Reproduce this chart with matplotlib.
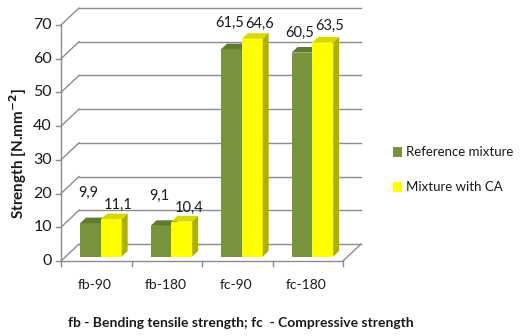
import matplotlib
matplotlib.use("Agg")
import matplotlib.pyplot as plt
from matplotlib.patches import Polygon

categories = ["fb-90", "fb-180", "fc-90", "fc-180"]
reference = [9.9, 9.1, 61.5, 60.5]
with_ca = [11.1, 10.4, 64.6, 63.5]
ref_labels = ["9,9", "9,1", "61,5", "60,5"]
ca_labels = ["11,1", "10,4", "64,6", "63,5"]
series_names = ["Reference mixture", "Mixture with CA"]
yticks = [0, 10, 20, 30, 40, 50, 60, 70]

plt.rcParams['font.family'] = ['Lato', 'DejaVu Sans']

W, H = 522, 336
fig = plt.figure(figsize=(W / 100, H / 100), dpi=100)
x0, y0, x1, y1 = 61, 261, 343, 25
ax = fig.add_axes([x0 / W, (H - y0) / H, (x1 - x0) / W, (y0 - y1) / H])
ax.set_xlim(0, len(categories))
ax.set_ylim(0, 70)
ax.axis("off")

px_x = (x1 - x0) / len(categories)
px_y = (y0 - y1) / 70.0
DX = 18 / px_x
DY = 17 / px_y

grid_c = "#8c8c8c"
lw = 1.0
n = len(categories)
tc = "#1a1a1a"
for t in yticks:
    ax.plot([0, DX], [t, t + DY], color=grid_c, lw=lw, clip_on=False)
    ax.plot([DX, n + DX], [t + DY, t + DY], color=grid_c, lw=lw, clip_on=False)
ax.plot([0, n], [0, 0], color=grid_c, lw=lw, clip_on=False)
ax.plot([n, n + DX], [0, DY], color=grid_c, lw=lw, clip_on=False)
ax.plot([0, 0], [0, 70], color=grid_c, lw=lw, clip_on=False)
tick_len_x = 5 / px_x
tick_len_y = 5 / px_y
for t in yticks:
    ax.plot([-tick_len_x, 0], [t, t], color=grid_c, lw=lw, clip_on=False)
    ax.text(-9 / px_x, t, str(t), ha="right", va="center", fontsize=11.5, color=tc)
for i in range(n + 1):
    ax.plot([i, i], [0, -tick_len_y], color=grid_c, lw=lw, clip_on=False)
for i, c in enumerate(categories):
    ax.text(i + 0.48, -24 / px_y, c, ha="center", va="center", fontsize=10, color=tc)

df = 0.26
bd = 0.33
bw = 0.295
colors = [("#77933C", "#5E7A2C", "#4F6326"), ("#FFFF00", "#D9D900", "#B0B000")]
ox, oy = df * DX, df * DY
ddx, ddy = bd * DX, bd * DY

def bar3d(xl, h, cols):
    front, top, side = cols
    b = oy
    xa = xl + ox
    xb = xa + bw
    ax.add_patch(Polygon([[xa, b], [xb, b], [xb, b + h], [xa, b + h]], closed=True,
                         facecolor=front, edgecolor="none", clip_on=False, zorder=3))
    ax.add_patch(Polygon([[xa, b + h], [xb, b + h], [xb + ddx, b + h + ddy], [xa + ddx, b + h + ddy]],
                         closed=True, facecolor=top, edgecolor="none", clip_on=False, zorder=3))
    ax.add_patch(Polygon([[xb, b], [xb + ddx, b + ddy], [xb + ddx, b + h + ddy], [xb, b + h]],
                         closed=True, facecolor=side, edgecolor="none", clip_on=False, zorder=3))

label_off = [(30, 14), (30, 14), (26, 15), (20, 17)]
for i in range(n):
    xl = i + 0.5 - bw
    bar3d(xl, reference[i], colors[0])
    bar3d(xl + bw, with_ca[i], colors[1])
    gx = xl + ox + bw / 2 - 0.03
    yx = xl + bw + ox + bw / 2 + 0.1
    ax.text(gx, reference[i] + oy + label_off[i][0] / px_y, ref_labels[i],
            ha="center", va="center", fontsize=10.5, color=tc, zorder=5)
    ax.text(yx, with_ca[i] + oy + label_off[i][1] / px_y, ca_labels[i],
            ha="center", va="center", fontsize=10.5, color=tc, zorder=5)

fig.text(18 / W, 1 - 154 / H, r"Strength [N.mm$^{\mathbf{-2}}$]", rotation=90,
         ha="center", va="center", fontsize=11, fontweight="bold", color=tc)

for k, (name, col) in enumerate(zip(series_names, [colors[0][0], colors[1][0]])):
    yc = 152 + k * 35
    fig.patches.append(plt.Rectangle((393 / W, 1 - (yc + 5) / H), 9 / W, 10 / H,
                                     transform=fig.transFigure, facecolor=col, edgecolor="none"))
    fig.text(406 / W, 1 - yc / H, name, ha="left", va="center", fontsize=9.5,
             family=['Lato', 'DejaVu Sans'], color=tc)

fig.text(241 / W, 1 - 323 / H, "fb - Bending tensile strength; fc  - Compressive strength",
         ha="center", va="center", fontsize=10, fontweight="bold", color=tc)

fig.savefig("out.png", dpi=100)
